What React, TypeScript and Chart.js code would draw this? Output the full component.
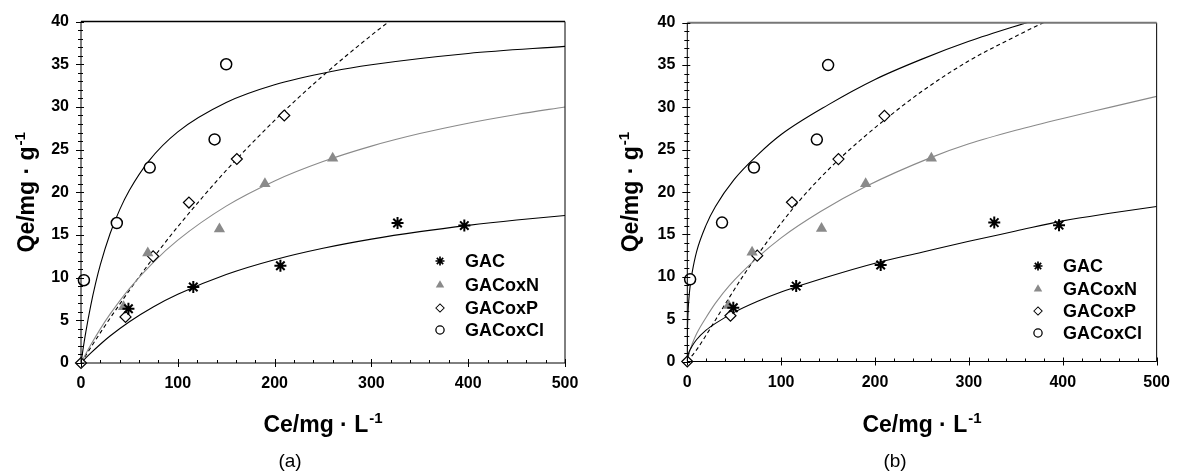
import React, { useEffect, useRef } from 'react';
import { Chart, registerables } from 'chart.js';
import { drawPoint } from 'chart.js/helpers';

Chart.register(...registerables);

// ---------- data ----------
const seriesNames = ['GAC', 'GACoxN', 'GACoxP', 'GACoxCl'];

// measured points (same in both panels)
const gacCe = [49, 116, 206, 327, 396];
const gacQe = [6.35, 8.9, 11.4, 16.4, 16.1];
const oxNCe = [44, 69, 143, 190, 260];
const oxNQe = [6.6, 12.9, 15.7, 21.0, 24.0];
const oxPCe = [0, 46, 74.5, 111.5, 161, 210];
const oxPQe = [0, 5.4, 12.5, 18.8, 23.9, 29.0];
const oxClCe = [3, 37, 71, 138, 150];
const oxClQe = [9.7, 16.4, 22.9, 26.2, 35.0];

// panel (a) model curves
const aGacCe = [0, 5, 10, 20, 30, 50, 75, 100, 150, 200, 250, 300, 350, 400, 450, 500];
const aGacQe = [0, 0.59, 1.15, 2.2, 3.16, 4.84, 6.6, 8.06, 10.37, 12.1, 13.44, 14.51, 15.39, 16.13, 16.75, 17.28];
const aOxNCe = [0, 5, 10, 20, 30, 50, 75, 100, 150, 200, 250, 300, 350, 400, 450, 500];
const aOxNQe = [0, 1.08, 2.1, 4.0, 5.72, 8.72, 11.83, 14.4, 18.38, 21.33, 23.6, 25.41, 26.88, 28.1, 29.12, 30.0];
const aOxPCe = [0, 10, 25, 50, 75, 100, 150, 200, 250, 300, 330];
const aOxPQe = [0, 1.8, 4.4, 8.51, 12.36, 15.97, 22.56, 28.42, 33.67, 38.4, 41.03];
const aOxClCe = [0, 2, 5, 10, 15, 20, 30, 40, 50, 70, 100, 150, 200, 260, 300, 400, 500];
const aOxClQe = [0, 1.54, 3.65, 6.7, 9.29, 11.52, 15.14, 17.97, 20.24, 23.66, 27.08, 30.52, 32.6, 34.19, 34.95, 36.27, 37.1];

// panel (b) model curves
const bGacCe = [0, 1, 3, 5, 10, 20, 30, 50, 75, 100, 150, 200, 250, 300, 350, 400, 450, 500];
const bGacQe = [0, 0.8, 1.4, 1.8, 2.6, 3.7, 4.5, 5.8, 7.1, 8.2, 10.0, 11.6, 12.9, 14.2, 15.4, 16.6, 17.5, 18.3];
const bOxNCe = [0, 2, 5, 10, 20, 30, 45, 75, 100, 142, 189, 260, 300, 350, 400, 450, 500];
const bOxNQe = [0, 1.0, 2.0, 3.3, 5.2, 6.9, 9.0, 12.3, 14.6, 17.7, 20.6, 24.1, 25.7, 27.3, 28.7, 30.0, 31.3];
const bOxPCe = [0, 10, 20, 30, 45, 60, 75, 95, 115, 135, 160, 185, 210, 250, 300, 350, 383, 420];
const bOxPQe = [0, 1.4, 3.1, 4.9, 7.6, 10.2, 12.6, 15.6, 18.4, 20.9, 23.7, 26.2, 28.5, 31.9, 35.5, 38.4, 40.2, 42.0];
const bOxClCe = [0, 0.05, 0.2, 0.5, 1, 2, 3, 5, 10, 20, 30, 50, 75, 100, 150, 200, 250, 300, 370];
const bOxClQe = [0, 2.4, 3.8, 5.0, 6.3, 7.8, 8.9, 10.4, 13.0, 16.1, 18.3, 21.5, 24.4, 26.8, 30.3, 33.3, 35.7, 37.8, 40.3];

const xTickLabels = ['0', '100', '200', '300', '400', '500'];
const yTickLabels = ['0', '5', '10', '15', '20', '25', '30', '35', '40'];

// ---------- styles ----------
const FONT = "'Liberation Sans', Arial, sans-serif";
const GRAY = '#8a8a8a';
const markerStyles = [
  { pointStyle: 'star', radius: 6, bg: '#000', border: '#000', bw: 2 },
  { pointStyle: 'triangle', radius: 6.5, bg: GRAY, border: GRAY, bw: 0 },
  { pointStyle: 'rectRot', radius: 5.5, bg: '#fff', border: '#000', bw: 1.2 },
  { pointStyle: 'circle', radius: 5.5, bg: '#fff', border: '#000', bw: 1.5 },
];
const curveStyles = [
  { color: '#000', dash: [] as number[] },
  { color: GRAY, dash: [] as number[] },
  { color: '#000', dash: [4, 3] },
  { color: '#000', dash: [] as number[] },
];

const pts = (xs: number[], ys: number[]) => xs.map((x, i) => ({ x, y: ys[i] }));

type PanelCfg = {
  curves: [number[], number[]][];
  yAxisW: number;
  xAxisH: number;
  top: number;
  rightPad: number;
  topColor: string;
  topWidth: number;
  legendMarkerX: number;
  legendTextX: number;
  legendY: number[];
  caption: string;
  captionX: number;
  captionY: number;
  yTitleX: number;
  xTitleY: number;
};

const panelA: PanelCfg = {
  curves: [[aGacCe, aGacQe], [aOxNCe, aOxNQe], [aOxPCe, aOxPQe], [aOxClCe, aOxClQe]],
  yAxisW: 81,
  xAxisH: 112,
  top: 20,
  rightPad: 25,
  topColor: '#000',
  topWidth: 1.5,
  legendMarkerX: 440,
  legendTextX: 465,
  legendY: [261, 285, 308, 330],
  caption: '(a)',
  captionX: 290,
  captionY: 462,
  yTitleX: 26,
  xTitleY: 432,
};

const panelB: PanelCfg = {
  curves: [[bGacCe, bGacQe], [bOxNCe, bOxNQe], [bOxPCe, bOxPQe], [bOxClCe, bOxClQe]],
  yAxisW: 97.3,
  xAxisH: 113.5,
  top: 22.7,
  rightPad: 16,
  topColor: '#777',
  topWidth: 2,
  legendMarkerX: 448,
  legendTextX: 473,
  legendY: [266, 289, 311, 333],
  caption: '(b)',
  captionX: 305,
  captionY: 462,
  yTitleX: 40,
  xTitleY: 432,
};

function supText(ctx: CanvasRenderingContext2D, main: string, sup: string, cx: number, base: number) {
  const mainFont = `bold 23px ${FONT}`;
  const supFont = `bold 15px ${FONT}`;
  ctx.font = mainFont;
  const w1 = ctx.measureText(main).width;
  ctx.font = supFont;
  const w2 = ctx.measureText(sup).width;
  const x0 = cx - (w1 + w2 + 1) / 2;
  ctx.textAlign = 'left';
  ctx.textBaseline = 'alphabetic';
  ctx.font = mainFont;
  ctx.fillText(main, x0, base);
  ctx.font = supFont;
  ctx.fillText(sup, x0 + w1 + 1, base - 9);
}

const decor = (p: PanelCfg) => ({
  id: 'decor',
  afterDraw(chart: any) {
    const { ctx, chartArea: ca, scales } = chart;
    const xs = scales.x;
    const ys = scales.y;
    ctx.save();
    // frame
    ctx.strokeStyle = '#000';
    ctx.lineWidth = 1;
    ctx.beginPath();
    ctx.moveTo(ca.left, ca.top);
    ctx.lineTo(ca.left, ca.bottom);
    ctx.lineTo(ca.right, ca.bottom);
    ctx.moveTo(ca.right, ca.bottom);
    ctx.lineTo(ca.right, ca.top);
    ctx.stroke();
    ctx.strokeStyle = p.topColor;
    ctx.lineWidth = p.topWidth;
    ctx.beginPath();
    ctx.moveTo(ca.left, ca.top);
    ctx.lineTo(ca.right, ca.top);
    ctx.stroke();
    // ticks
    ctx.strokeStyle = '#000';
    ctx.lineWidth = 1;
    ctx.beginPath();
    for (let v = 0; v <= 40; v += 1) {
      const y = Math.round(ys.getPixelForValue(v)) + 0.5;
      if (v % 5 === 0) {
        ctx.moveTo(ca.left - 5, y);
        ctx.lineTo(ca.left + 3, y);
      } else {
        ctx.moveTo(ca.left - 3, y);
        ctx.lineTo(ca.left + 2, y);
      }
    }
    for (let v = 0; v <= 500; v += 20) {
      const x = Math.round(xs.getPixelForValue(v)) + 0.5;
      if (v % 100 === 0) {
        ctx.moveTo(x, ca.bottom - 4);
        ctx.lineTo(x, ca.bottom + 4);
      } else {
        ctx.moveTo(x, ca.bottom - 3);
        ctx.lineTo(x, ca.bottom);
      }
    }
    ctx.stroke();
    // titles
    ctx.fillStyle = '#000';
    supText(ctx, 'Ce/mg \u00B7 L', '-1', (ca.left + ca.right) / 2, p.xTitleY);
    ctx.save();
    ctx.translate(p.yTitleX, (ca.top + ca.bottom) / 2);
    ctx.rotate(-Math.PI / 2);
    supText(ctx, 'Qe/mg \u00B7 g', '-1', 0, 8);
    ctx.restore();
    // legend
    seriesNames.forEach((name, i) => {
      const m = markerStyles[i];
      ctx.fillStyle = m.bg;
      ctx.strokeStyle = m.border;
      ctx.lineWidth = m.bw * 0.85;
      drawPoint(ctx, { pointStyle: m.pointStyle as any, radius: m.radius * 0.75, rotation: 0, borderWidth: m.bw * 0.85 }, p.legendMarkerX, p.legendY[i]);
      ctx.fillStyle = '#000';
      ctx.font = `bold 18px ${FONT}`;
      ctx.textAlign = 'left';
      ctx.textBaseline = 'middle';
      ctx.fillText(name, p.legendTextX, p.legendY[i] + 1);
    });
    // caption
    ctx.font = `19px ${FONT}`;
    ctx.textAlign = 'center';
    ctx.textBaseline = 'middle';
    ctx.fillText(p.caption, p.captionX, p.captionY);
    ctx.restore();
  },
});

function makeConfig(p: PanelCfg): any {
  const pointSets = [
    [gacCe, gacQe],
    [oxNCe, oxNQe],
    [oxPCe, oxPQe],
    [oxClCe, oxClQe],
  ].map(([xs, ys], i) => {
    const m = markerStyles[i];
    return {
      label: seriesNames[i],
      data: pts(xs, ys),
      showLine: false,
      pointStyle: m.pointStyle,
      pointRadius: m.radius,
      pointBackgroundColor: m.bg,
      pointBorderColor: m.border,
      pointBorderWidth: m.bw,
      clip: false,
    };
  });
  const curveSets = p.curves.map(([xs, ys], i) => ({
    label: seriesNames[i] + ' model',
    data: pts(xs, ys),
    showLine: true,
    pointRadius: 0,
    borderColor: curveStyles[i].color,
    borderWidth: 1.1,
    borderDash: curveStyles[i].dash,
    cubicInterpolationMode: 'monotone',
    fill: false,
  }));
  const tickFont = { family: FONT, size: 16, weight: 'bold' };
  return {
    type: 'scatter',
    data: { datasets: [...pointSets, ...curveSets] },
    options: {
      animation: false,
      responsive: false,
      maintainAspectRatio: false,
      events: [],
      layout: { padding: { left: 0, top: p.top, right: p.rightPad, bottom: 0 } },
      plugins: { legend: { display: false }, tooltip: { enabled: false }, title: { display: false } },
      scales: {
        x: {
          type: 'linear',
          min: 0,
          max: 500,
          afterFit: (s: any) => { s.height = p.xAxisH; },
          grid: { display: false, drawTicks: false },
          border: { display: false },
          ticks: {
            stepSize: 20,
            autoSkip: false,
            maxRotation: 0,
            padding: 11,
            color: '#000',
            font: tickFont,
            callback: (v: number) => (v % 100 === 0 ? xTickLabels[v / 100] : ''),
          },
        },
        y: {
          type: 'linear',
          min: 0,
          max: 40,
          afterFit: (s: any) => { s.width = p.yAxisW; },
          grid: { display: false, drawTicks: false },
          border: { display: false },
          ticks: {
            stepSize: 1,
            autoSkip: false,
            padding: 12,
            color: '#000',
            font: tickFont,
            callback: (v: number) => (v % 5 === 0 ? yTickLabels[v / 5] : ''),
          },
        },
      },
    },
    plugins: [decor(p)],
  };
}

function Panel({ cfg, left, width }: { cfg: PanelCfg; left: number; width: number }) {
  const ref = useRef<HTMLCanvasElement>(null);
  useEffect(() => {
    const chart = new Chart(ref.current as HTMLCanvasElement, makeConfig(cfg));
    return () => chart.destroy();
  }, [cfg]);
  return (
    <canvas
      ref={ref}
      width={width}
      height={475}
      style={{ position: 'absolute', left, top: 0, width, height: 475, display: 'block' }}
    />
  );
}

export default function App() {
  return (
    <div style={{ position: 'absolute', left: 0, top: 0, width: 1181, height: 475, background: '#fff', overflow: 'hidden' }}>
      <Panel cfg={panelA} left={0} width={590} />
      <Panel cfg={panelB} left={590} width={591} />
    </div>
  );
}
